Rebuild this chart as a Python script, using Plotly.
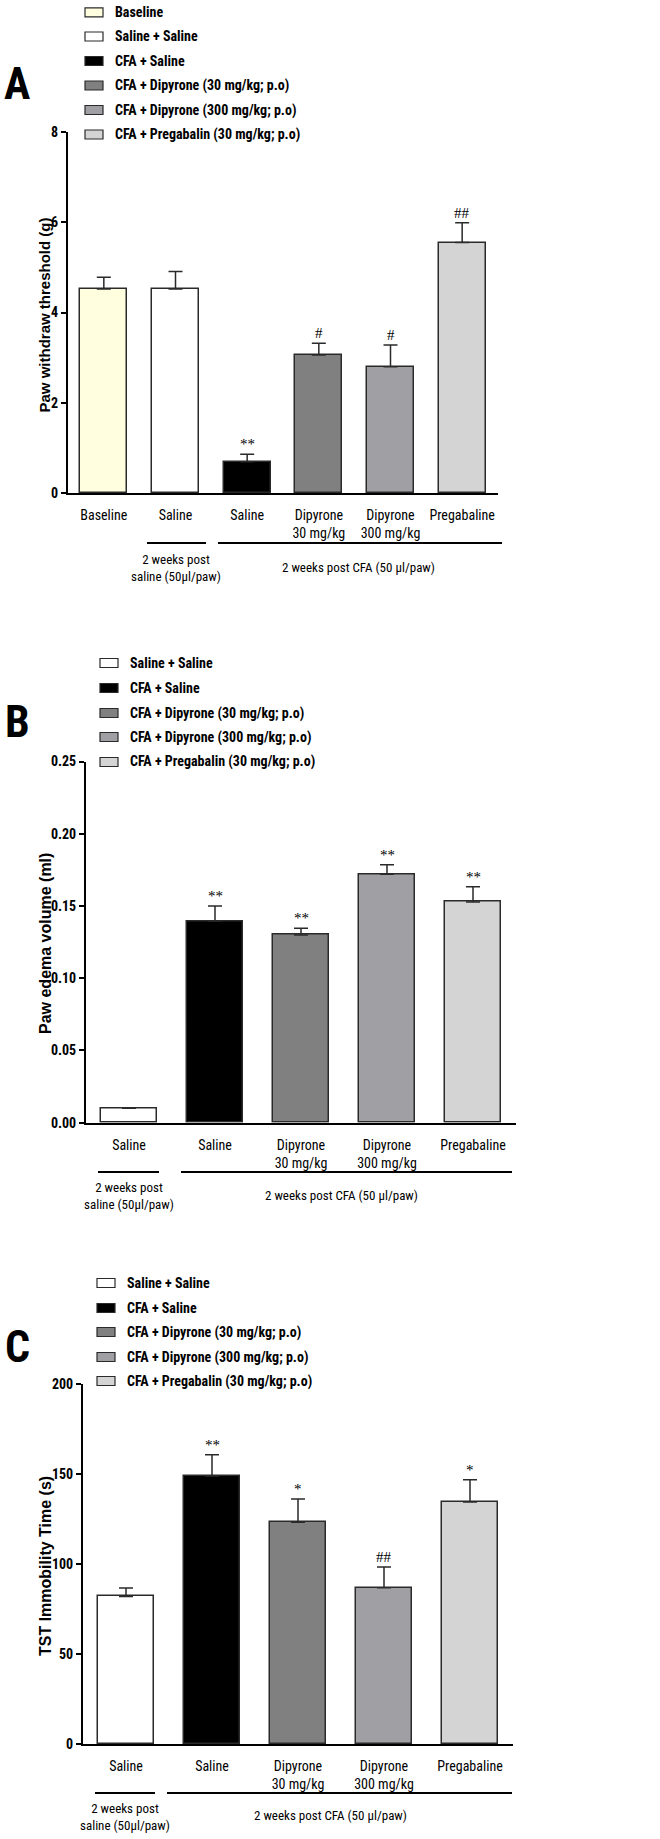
import plotly.graph_objects as go

W, H = 660, 1839
NARROW = "Liberation Sans Narrow, Arial Narrow, Roboto Condensed, sans-serif"
ARIAL = "Liberation Sans, Arial, sans-serif"
SERIF = "Liberation Serif, Times New Roman, serif"

# ---------------- data ----------------
a_labels = ["Baseline", "Saline", "Saline", "Dipyrone<br>30 mg/kg", "Dipyrone<br>300 mg/kg", "Pregabaline"]
a_means = [4.52, 4.52, 0.69, 3.06, 2.80, 5.55]
a_errs = [0.26, 0.39, 0.17, 0.26, 0.48, 0.44]
a_sig = ["", "", "**", "#", "#", "##"]
a_legend = ["Baseline", "Saline + Saline", "CFA + Saline", "CFA + Dipyrone (30 mg/kg; p.o)",
            "CFA + Dipyrone (300 mg/kg; p.o)", "CFA + Pregabalin (30 mg/kg; p.o)"]

b_labels = ["Saline", "Saline", "Dipyrone<br>30 mg/kg", "Dipyrone<br>300 mg/kg", "Pregabaline"]
b_means = [0.010, 0.1396, 0.130, 0.172, 0.1528]
b_errs = [0.0, 0.0104, 0.0045, 0.0066, 0.0105]
b_sig = ["", "**", "**", "**", "**"]

c_labels = ["Saline", "Saline", "Dipyrone<br>30 mg/kg", "Dipyrone<br>300 mg/kg", "Pregabaline"]
c_means = [82.0, 148.9, 123.2, 86.8, 134.4]
c_errs = [4.7, 11.8, 12.9, 11.5, 12.4]
c_sig = ["", "**", "*", "##", "*"]

bc_legend = a_legend[1:]

# ---------------- styles ----------------
COL6 = ["#FFFFE0", "#FFFFFF", "#000000", "#808080", "#A0A0A4", "#D4D4D4"]
COL5 = COL6[1:]
EDGE = "#2a2a2a"


def px(x):
    return x / W


def py(y):
    return 1 - y / H


fig = go.Figure()

panels = [
    dict(n="", labels=a_labels, means=a_means, errs=a_errs, sig=a_sig, cols=COL6,
         xdom=(68, 498), ydom=(493, 132), yr=[0, 8], dtick=2, fmt="d",
         title="Paw withdraw threshold (g)", tx=43.5, ty=315, tsize=15),
    dict(n="2", labels=b_labels, means=b_means, errs=b_errs, sig=b_sig, cols=COL5,
         xdom=(86, 516), ydom=(1122.7, 761.5), yr=[0, 0.25], dtick=0.05, fmt=".2f",
         title="Paw edema volume (ml)", tx=45, ty=944, tsize=16),
    dict(n="3", labels=c_labels, means=c_means, errs=c_errs, sig=c_sig, cols=COL5,
         xdom=(83, 513), ydom=(1744, 1384), yr=[0, 200], dtick=50, fmt="d",
         title="TST Immobility Time (s)", tx=45, ty=1566, tsize=16),
]

layout_axes = {}
annotations = []
shapes = []

for p in panels:
    n = len(p["means"])
    xs = list(range(n))
    fig.add_trace(go.Bar(
        x=xs, y=p["means"], width=0.66,
        marker=dict(color=p["cols"], line=dict(color=EDGE, width=1.5)),
        error_y=dict(type="data", symmetric=False, array=p["errs"], arrayminus=[0] * n,
                     color=EDGE, thickness=1.5, width=7),
        xaxis="x" + p["n"], yaxis="y" + p["n"], showlegend=False,
    ))
    layout_axes["xaxis" + p["n"]] = dict(
        domain=[px(p["xdom"][0]), px(p["xdom"][1])], range=[-0.5, n - 0.5],
        anchor="y" + p["n"], tickvals=xs, ticktext=p["labels"], ticks="",
        showline=True, linewidth=2, linecolor="black", showgrid=False, zeroline=False,
        automargin=False,
        tickfont=dict(family=NARROW, size=14, color="black"), ticklabelstandoff=8,
    )
    layout_axes["yaxis" + p["n"]] = dict(
        domain=[py(p["ydom"][0]), py(p["ydom"][1])], range=p["yr"], dtick=p["dtick"],
        tick0=0, tickformat=p["fmt"], anchor="x" + p["n"],
        showline=True, linewidth=2, linecolor="black", showgrid=False, zeroline=False,
        automargin=False,
        ticks="outside", ticklen=5, tickwidth=2, tickcolor="black",
        tickfont=dict(family=NARROW, size=14, color="black", weight="bold"),
    )
    # y-axis title
    annotations.append(dict(x=px(p["tx"]), y=py(p["ty"]), xref="paper", yref="paper",
                            text=p["title"], textangle=-90, showarrow=False,
                            xanchor="center", yanchor="middle",
                            font=dict(family=ARIAL, size=p["tsize"], color="black", weight="bold")))
    for i, s in enumerate(p["sig"]):
        if s:
            annotations.append(dict(
                x=i, y=p["means"][i] + p["errs"][i], xref="x" + p["n"], yref="y" + p["n"],
                text=s, showarrow=False, yanchor="bottom", yshift=0,
                font=dict(family=SERIF, size=15, color="black"),
            ))

# panel letters
for letter, y in [("A", 84), ("B", 722), ("C", 1347)]:
    annotations.append(dict(x=px(17), y=py(y), xref="paper", yref="paper", text=letter,
                            showarrow=False, xanchor="center", yanchor="middle",
                            font=dict(family=NARROW, size=44, color="black", weight="bold")))

# legends
legends = [
    (a_legend, COL6, 85, 113, [12.3, 36.5, 61, 85.5, 110, 134.5]),
    (bc_legend, COL5, 100, 128, [663, 688, 713, 737, 762]),
    (bc_legend, COL5, 97, 125, [1283, 1308, 1332, 1357, 1381]),
]
for names, cols, sx, tx, ys in legends:
    for name, col, yc in zip(names, cols, ys):
        shapes.append(dict(type="rect", xref="paper", yref="paper",
                           x0=px(sx), x1=px(sx + 18), y0=py(yc - 4.5), y1=py(yc + 4.5),
                           fillcolor=col, line=dict(color=EDGE, width=1.2)))
        annotations.append(dict(x=px(tx), y=py(yc), xref="paper", yref="paper", text=name,
                                showarrow=False, xanchor="left", yanchor="middle",
                                font=dict(family=NARROW, size=14, color="black", weight="bold")))

# group bars and labels under the x axes
groups = [
    (543, (147, 206), (218, 502), (176.5, 568), (358, 567)),
    (1172, (98, 159), (181, 512), (128.5, 1196), (341, 1195)),
    (1793, (95, 155), (167, 512), (125, 1817), (331, 1815)),
]
for ly, g1, g2, t1, t2 in groups:
    for g in (g1, g2):
        shapes.append(dict(type="line", xref="paper", yref="paper",
                           x0=px(g[0]), x1=px(g[1]), y0=py(ly), y1=py(ly),
                           line=dict(color="black", width=2)))
    annotations.append(dict(x=px(t1[0]), y=py(t1[1]), xref="paper", yref="paper",
                            text="2 weeks post<br>saline (50\u00b5l/paw)", showarrow=False,
                            xanchor="center", yanchor="middle",
                            font=dict(family=NARROW, size=13, color="black")))
    annotations.append(dict(x=px(t2[0]), y=py(t2[1]), xref="paper", yref="paper",
                            text="2 weeks post CFA (50 \u00b5l/paw)", showarrow=False,
                            xanchor="center", yanchor="middle",
                            font=dict(family=NARROW, size=13, color="black")))

fig.update_layout(
    template="none",
    width=W, height=H, margin=dict(l=0, r=0, t=0, b=0, autoexpand=False),
    paper_bgcolor="white", plot_bgcolor="white",
    showlegend=False, bargap=0,
    annotations=annotations, shapes=shapes,
    **layout_axes,
)

fig.write_html("out.html", config={"displayModeBar": False},
               post_script="document.body.style.margin='0';")
